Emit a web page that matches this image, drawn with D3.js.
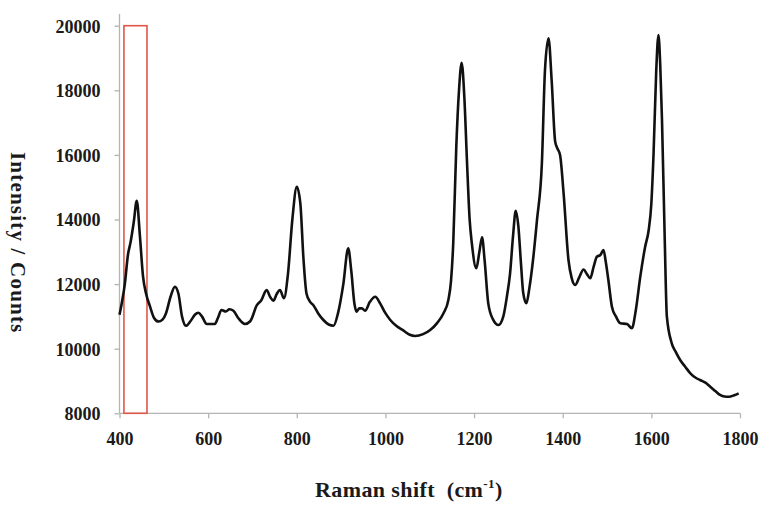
<!DOCTYPE html>
<html>
<head>
<meta charset="utf-8">
<script src="https://cdn.jsdelivr.net/npm/d3@7"></script>
<style>
  html, body { margin: 0; padding: 0; background: #fff; }
  svg { display: block; }
  text { font-family: "Liberation Serif", "Times New Roman", serif; font-weight: bold; fill: #1a1a1a; }
</style>
</head>
<body>
<svg id="chart" width="762" height="506"></svg>
<script>
// Raman shift (cm-1)
const shift = [400,405,412,419,425,432,439,446,453,460,469,478,488,497,505,515,525,533,541,550,560,570,578,586,597,615,622,630,640,648,657,668,683,695,710,720,732,740,747,755,762,771,780,790,800,808,815,822,830,837,848,860,872,883,893,905,916,923,930,935,941,947,954,965,977,988,1000,1011,1025,1041,1055,1067,1085,1101,1117,1131,1142,1148,1153,1160,1166,1172,1178,1184,1190,1195,1205,1212,1218,1224,1232,1243,1255,1266,1274,1281,1288,1294,1300,1306,1311,1318,1325,1333,1342,1353,1360,1368,1375,1383,1388,1394,1402,1413,1420,1428,1437,1447,1455,1462,1470,1477,1485,1492,1497,1503,1511,1520,1530,1545,1556,1565,1575,1586,1594,1600,1605,1611,1616,1620,1624,1630,1635,1646,1655,1665,1676,1688,1700,1710,1722,1733,1745,1755,1765,1775,1787,1797];
// Intensity (counts)
const counts = [11050,11400,12000,12900,13300,13900,14580,13500,12250,11700,11300,10950,10840,10900,11100,11600,11920,11700,11000,10710,10850,11050,11115,11000,10765,10765,10950,11200,11150,11220,11175,10950,10765,10850,11350,11500,11817,11600,11486,11700,11817,11560,12300,14000,15015,14500,12800,11700,11450,11353,11100,10889,10750,10712,11100,12000,13108,12400,11400,11146,11250,11250,11176,11450,11610,11405,11100,10890,10700,10557,10430,10393,10450,10579,10800,11096,11508,12100,13263,16300,18000,18850,17800,15800,14000,13263,12489,13000,13449,12700,11405,10900,10733,11000,11610,12300,13500,14272,13777,12600,11715,11405,11900,12746,13985,15740,18628,19610,18319,16410,16200,15997,14811,12746,12200,11972,12200,12450,12300,12179,12550,12848,12900,13055,12700,12127,11300,11000,10786,10765,10632,11200,12230,13158,13675,14500,16049,18600,19712,18800,17080,13500,10990,10167,9900,9650,9450,9238,9100,9031,8950,8824,8680,8567,8520,8514,8560,8619];

const xTicks = [400,600,800,1000,1200,1400,1600,1800];
const yTicks = [8000,10000,12000,14000,16000,18000,20000];
const highlight = [410, 462]; // boxed region (cm-1)

const xTitle = "Raman shift\u00a0\u00a0(cm";
const yTitle = "Intensity / Counts";

const svg = d3.select("#chart");
const x = d3.scaleLinear().domain([400,1800]).range([119.5,740]);
const y = d3.scaleLinear().domain([8000,20000]).range([413.3,25.7]);
const axisColor = "#b4b4b4";

// Y axis
const yAxis = svg.append("g").attr("transform","translate(119.5,0)")
  .call(d3.axisLeft(y).tickValues(yTicks).tickSize(5).tickPadding(14).tickFormat(d3.format("d")));
yAxis.select(".domain").attr("stroke",axisColor).attr("stroke-width",1.3)
  .attr("d","M0,14V413.3");
yAxis.selectAll(".tick line").attr("stroke",axisColor).attr("stroke-width",1.3);
yAxis.selectAll(".tick text").attr("font-size","18px").attr("fill","#1a1a1a").attr("dy","0.35em");

// X axis
const xAxis = svg.append("g").attr("transform","translate(0,413.3)")
  .call(d3.axisBottom(x).tickValues(xTicks).tickSize(5).tickPadding(14).tickFormat(d3.format("d")));
xAxis.select(".domain").attr("stroke",axisColor).attr("stroke-width",1.3)
  .attr("d","M119.5,0H740");
xAxis.selectAll(".tick line").attr("stroke",axisColor).attr("stroke-width",1.3);
xAxis.selectAll(".tick text").attr("font-size","18px").attr("fill","#1a1a1a");
svg.selectAll(".tick text").style("font-family",'"Liberation Serif", serif').style("font-weight","bold");

// Highlight box
svg.append("rect")
  .attr("x", x(highlight[0])).attr("y", y(20000))
  .attr("width", x(highlight[1]) - x(highlight[0]))
  .attr("height", y(8000) - y(20000))
  .attr("fill","none").attr("stroke","#e0574a").attr("stroke-width",1.6);

// Spectrum
const data = shift.map((s,i)=>({s, c: counts[i]}));
const line = d3.line().x(d=>x(d.s)).y(d=>y(d.c)).curve(d3.curveMonotoneX);
svg.append("path").datum(data).attr("d",line)
  .attr("fill","none").attr("stroke","#111").attr("stroke-width",2.6)
  .attr("stroke-linejoin","round");

// Axis titles
const xt = svg.append("text").attr("x",315).attr("y",497).attr("font-size","22px").attr("letter-spacing","0.4px");
xt.append("tspan").text(xTitle);
xt.append("tspan").attr("font-size","13px").attr("dy","-9").text("-1");
xt.append("tspan").attr("dy","9").text(")");

svg.append("text").attr("transform","translate(11,152) rotate(90)")
  .attr("font-size","21px").attr("letter-spacing","1.2px").text(yTitle);
</script>
</body>
</html>
